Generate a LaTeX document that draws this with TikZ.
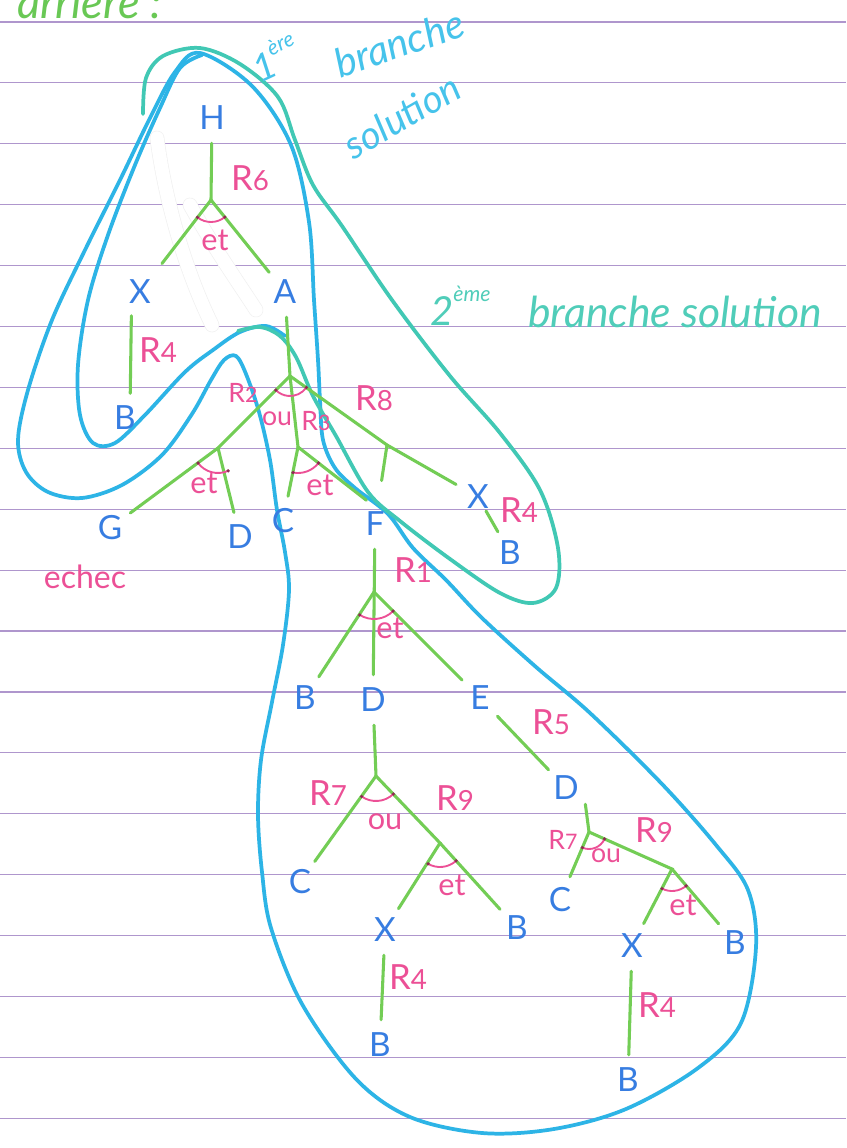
\documentclass[tikz,border=0pt]{standalone}
\usepackage{fontspec}
\setmainfont{Lato}
\usetikzlibrary{calc}
\definecolor{bluetxt}{RGB}{55,125,225}
\definecolor{greenedge}{RGB}{115,205,85}
\definecolor{pinklbl}{RGB}{236,80,150}
\definecolor{arcdot}{RGB}{140,45,80}
\definecolor{cyanl}{RGB}{45,180,230}
\definecolor{teall}{RGB}{65,200,180}
\definecolor{ruled}{RGB}{175,150,205}
\definecolor{titlegreen}{RGB}{105,200,85}
\definecolor{sol1}{RGB}{70,195,235}
\definecolor{sol2}{RGB}{80,205,185}
\newcommand\rlab[1]{R\scalebox{0.8}{#1}}
\newcommand\jarc[4]{%
  \draw[andarc] (#1) ++(#2:#4) arc[start angle=#2, end angle=#3, radius=#4];
  \fill[arcdot] (#1) ++(#2:#4) circle[radius=1.8];
  \fill[arcdot] (#1) ++(#3:#4) circle[radius=1.8];}
\begin{document}
\begin{tikzpicture}[x=0.75pt, y=-0.75pt,
  letter/.style={circle, inner sep=0pt, minimum size=37.5pt, text=bluetxt, font=\fontsize{25}{25}\selectfont},
  lbl/.style={inner sep=0pt, text=pinklbl, font=\fontsize{26}{26}\selectfont},
  smalllbl/.style={inner sep=0pt, text=pinklbl, font=\fontsize{20}{20}\selectfont},
  conn/.style={inner sep=0pt, text=pinklbl, font=\fontsize{23}{23}\selectfont},
  treeline/.style={draw=greenedge, line width=2.3pt, line cap=round},
  andarc/.style={draw=pinklbl, line width=1.4pt},
  loopc/.style={draw=cyanl, line width=2.8pt, line cap=round, line join=round},
  loopt/.style={draw=teall, line width=2.8pt, line cap=round, line join=round},
  ruling/.style={draw=ruled, line width=0.9pt},
  whiteout/.style={draw=white, line width=10pt, line cap=round},
  whiteedge/.style={draw=black!6, line width=11pt, line cap=round}]
\useasboundingbox (0,0) rectangle (846,1148);
\clip (0,0) rectangle (846,1148);
\fill[white] (0,0) rectangle (846,1148);
% ruled paper
\foreach \k in {0,...,18} \draw[ruling] (0,{22+60.9*\k}) -- (846,{22+60.9*\k});

% title fragment
\node[anchor=base west, inner sep=0pt, text=titlegreen, font=\fontsize{34}{34}\selectfont\itshape] (title) at (17,19) {arriere :};

% solution loops
\draw[loopc] plot[smooth cycle, tension=0.55] coordinates {
 (200,53) (175,72) (150,118) (120,180) (85,250) (52,320) (28,390) (18,440) (26,472) (48,492) (82,498)
 (122,485) (162,455) (192,414) (211,380) (224,360) (236,356) (246,374) (259,412) (270,460) (277,510)
 (285,552) (289,590) (283,645) (272,702) (261,760) (258,815) (262,872) (271,928) (302,1004) (356,1079)
 (410,1117) (482,1133) (554,1129) (626,1109) (698,1068) (741,1023) (756,947) (748,890) (716,845)
 (662,784) (590,713) (536,667) (482,618) (446,580) (413,548) (388,514) (355,488) (335,468) (323,440)
 (320,400) (318,360) (314,300) (309,222) (291,145) (252,86)};
\draw[loopc] plot[smooth, tension=0.55] coordinates {
 (202,55) (180,68) (160,108) (135,165) (108,235) (88,300) (78,365) (80,415) (93,443) (115,443)
 (145,415) (185,372) (213,350) (240,332) (266,326) (285,336)};
\draw[loopt] plot[smooth, tension=0.55] coordinates {
 (143,114) (146,78) (163,56) (200,48) (240,64) (278,97) (295,140) (313,185) (342,226) (392,300)
 (450,376) (500,433) (540,490) (558,548) (556,588) (533,603) (500,593) (450,559) (400,521) (368,492)
 (336,436) (313,396) (296,357) (280,336) (260,327) (238,331)};

% correction fluid
\draw[whiteedge] (157,138) .. controls (165,200) and (185,270) .. (212,325);
\draw[whiteedge] (190,205) .. controls (215,250) and (240,285) .. (256,310);
\draw[whiteout] (157,138) .. controls (165,200) and (185,270) .. (212,325);
\draw[whiteout] (190,205) .. controls (215,250) and (240,285) .. (256,310);

% loop labels
\node[anchor=base west, inner sep=0pt, text=sol1, rotate=25, font=\fontsize{28}{28}\selectfont\itshape] (one) at (260,84) {1\raisebox{0.55em}{\fontsize{16}{16}\selectfont ère}};
\node[inner sep=0pt, text=sol1, rotate=19, font=\fontsize{30}{30}\selectfont\itshape] (br1) at (399,43) {branche};
\node[inner sep=0pt, text=sol1, rotate=30, font=\fontsize{29}{29}\selectfont\itshape] (so1) at (402,116) {solution};
\node[anchor=base west, inner sep=0pt, text=sol2, font=\fontsize{30}{30}\selectfont\itshape] (two) at (430,325) {2\raisebox{0.6em}{\fontsize{16}{16}\selectfont ème}};
\node[anchor=base west, inner sep=0pt, text=sol2, font=\fontsize{32}{32}\selectfont\itshape] (br2) at (528,327) {branche solution};

% tree nodes
\node[letter] (H) at (212,118) {H};
\node[letter] (X1) at (140,292) {X};
\node[letter] (A) at (285,292) {A};
\node[letter] (B1) at (125,418) {B};
\node[letter] (G) at (110,528) {G};
\node[letter] (D1) at (240,537) {D};
\node[letter] (C1) at (283,521) {C};
\node[letter] (F) at (375,524) {F};
\node[letter] (X2) at (478,497) {X};
\node[letter] (B2) at (510,553) {B};
\node[letter] (B3) at (305,698) {B};
\node[letter] (D2) at (373,700) {D};
\node[letter] (E) at (480,698) {E};
\node[letter] (D3) at (566,788) {D};
\node[letter] (C2) at (300,882) {C};
\node[letter] (X3) at (385,930) {X};
\node[letter] (B4) at (517,928) {B};
\node[letter] (B5) at (380,1045) {B};
\node[letter] (C3) at (560,900) {C};
\node[letter] (X4) at (632,946) {X};
\node[letter] (B6) at (735,943) {B};
\node[letter] (B7) at (628,1080) {B};

% junctions
\coordinate (jH) at (211,200);
\coordinate (jA) at (290,376);
\coordinate (jR2) at (218,448);
\coordinate (jR3) at (298,447);
\coordinate (jR8) at (387,445);
\coordinate (jF) at (374,592);
\coordinate (jD2) at (376,776);
\coordinate (jR9) at (440,843);
\coordinate (jD3) at (589,832);
\coordinate (jR9b) at (672,869);

% tree connectors
\draw[treeline] (H) -- (jH);
\draw[treeline, shorten >=8pt] (jH) -- (X1);
\draw[treeline] (jH) -- (A);
\draw[treeline] (X1.-110) -- (B1.78);
\draw[treeline] (A) -- (jA) -- (jR3);
\draw[treeline] (jA) -- (jR2) -- (G);
\draw[treeline] (jR2) -- (D1);
\draw[treeline] (jR3) -- (C1);
\draw[treeline] (jR3) -- (F.110);
\draw[treeline] (jA) -- (jR8) -- (X2);
\draw[treeline, shorten >=14pt] (jR8) -- (F);
\draw[treeline] ($(X2)!0.25!(B2)$) -- ($(X2)!0.62!(B2)$);
\draw[treeline] (F) -- (D2);
\draw[treeline] (jF) -- (B3);
\draw[treeline] (jF) -- (E);
\draw[treeline] (D2) -- (jD2) -- (jR9) -- (X3);
\draw[treeline] (jD2) -- (C2);
\draw[treeline] (jR9) -- (B4);
\draw[treeline] (X3) -- (B5);
\draw[treeline] (E) -- (D3);
\draw[treeline] (D3.-40) -- (jD3) -- (jR9b) -- (X4);
\draw[treeline] (jD3) -- (C3);
\draw[treeline] (jR9b) -- (B6);
\draw[treeline] (X4) -- (B7);

% et / ou arcs
\jarc{jH}{51}{128}{22}
\jarc{jA}{35}{135}{20}
\jarc{jR2}{66}{143}{25}
\jarc{jR3}{38}{101}{26}
\jarc{jF}{45}{122}{27}
\jarc{jD2}{46}{125}{25}
\jarc{jR9}{48}{120}{24}
\jarc{jD3}{24}{113}{17}
\jarc{jR9b}{50}{117}{22}

% rule labels
\node[lbl] (r6) at (250,178) {\rlab{6}};
\node[conn] (et1) at (215,240) {et};
\node[lbl] (r4a) at (158,350) {\rlab{4}};
\node[smalllbl] (r2) at (243,393) {\rlab{2}};
\node[smalllbl] (ou1) at (277,419) {ou};
\node[smalllbl] (r3) at (316,421) {\rlab{3}};
\node[lbl] (r8) at (374,398) {\rlab{8}};
\node[conn] (et2) at (204,483) {et};
\node[conn] (et3) at (320,485) {et};
\node[lbl] (r4b) at (519,510) {\rlab{4}};
\node[inner sep=0pt, text=pinklbl, font=\fontsize{24}{24}\selectfont] (echec) at (85,577) {echec};
\node[lbl] (r1) at (413,570) {\rlab{1}};
\node[conn] (et4) at (390,628) {et};
\node[lbl] (r5) at (551,722) {\rlab{5}};
\node[lbl] (r7a) at (328,793) {\rlab{7}};
\node[conn] (ou2) at (385,822) {ou};
\node[lbl] (r9a) at (455,798) {\rlab{9}};
\node[conn] (et5) at (452,885) {et};
\node[lbl] (r4c) at (408,977) {\rlab{4}};
\node[smalllbl] (r7b) at (563,840) {\rlab{7}};
\node[smalllbl] (ou3) at (606,856) {ou};
\node[lbl] (r9b) at (654,830) {\rlab{9}};
\node[conn] (et6) at (683,905) {et};
\node[lbl] (r4d) at (657,1005) {\rlab{4}};
\end{tikzpicture}
\end{document}
